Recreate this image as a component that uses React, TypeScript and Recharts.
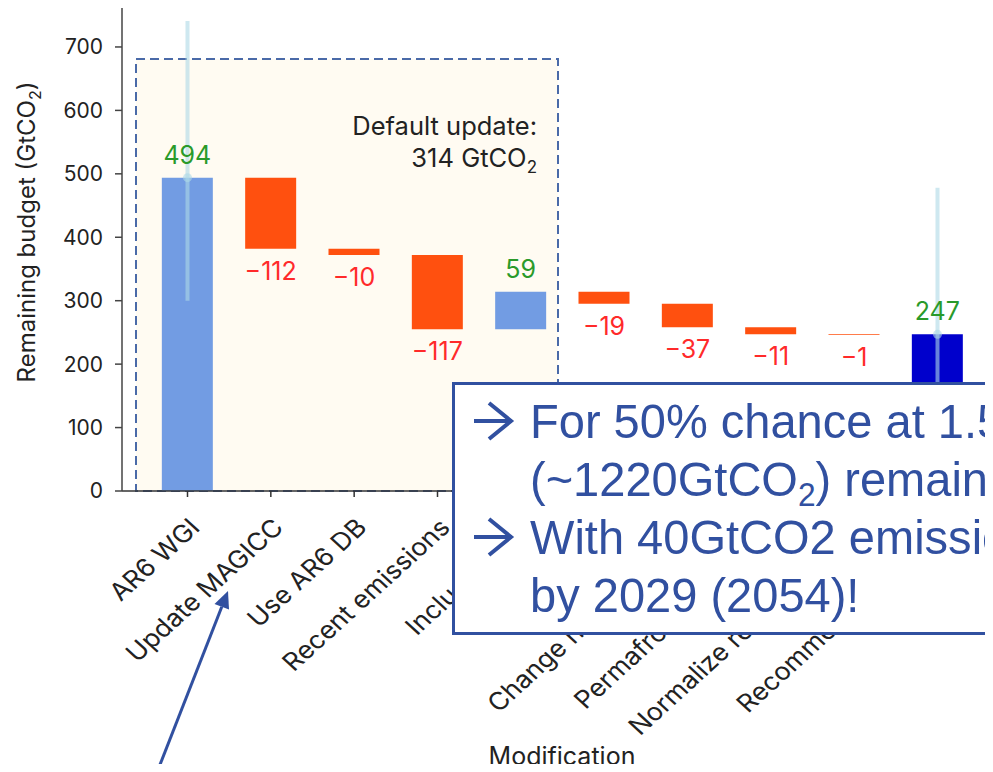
import {
  Bar,
  Cell,
  ComposedChart,
  ErrorBar,
  Label,
  LabelList,
  ReferenceArea,
  ReferenceLine,
  Scatter,
  XAxis,
  YAxis,
} from "recharts";

const CATEGORIES = [
  "AR6 WGI",
  "Update MAGICC",
  "Use AR6 DB",
  "Recent emissions",
  "Include 2022",
  "Update ZEC",
  "Change non-CO2 data",
  "Permafrost feedbacks",
  "Normalize reference year",
  "Recommended update",
];
// first and last are totals, the rest are steps of the waterfall
const CHANGES = [494, -112, -10, -117, 59, -19, -37, -11, -1, 247];
const BAR_KINDS = ["total", "loss", "loss", "loss", "gain", "loss", "loss", "loss", "loss", "final"];

const RANGE_AT = [0, 9];
const RANGE_LOW = [300, 70];
const RANGE_HIGH = [741, 478];

const Y_TICKS = [0, 100, 200, 300, 400, 500, 600, 700];
const X_TICKS = CATEGORIES.map((_, i) => i);
const DEFAULT_UPDATE = 314;

const FONT = "Inter, sans-serif";
const FILLS: Record<string, string> = {
  total: "#729ce3",
  gain: "#729ce3",
  loss: "#ff500f",
  final: "#0000cc",
};
const RANGE_COLOR = "rgba(173,216,230,0.6)";
const NOTE_COLOR = "#3150a0";

type Row = { idx: number; base: number; span: number; change: number; kind: string };

let running = 0;
const rows: Row[] = CHANGES.map((change, idx) => {
  const kind = BAR_KINDS[idx];
  if (kind === "total" || kind === "final") {
    running = change;
    return { idx, base: 0, span: change, change, kind };
  }
  const start = running;
  running = start + change;
  return { idx, base: Math.min(start, running), span: Math.abs(change), change, kind };
});

const rangeRows = RANGE_AT.map((idx, k) => ({
  idx,
  mid: CHANGES[idx],
  err: [CHANGES[idx] - RANGE_LOW[k], RANGE_HIGH[k] - CHANGES[idx]],
}));

function ValueLabel(props: any) {
  const x = Number(props.x);
  const y = Number(props.y);
  const width = Number(props.width);
  const height = Number(props.height);
  const row = rows[props.index];
  if (!row) return null;
  const cx = x + width / 2;
  if (row.kind === "loss") {
    return (
      <text x={cx} y={y + height + 31} textAnchor="middle" fill="#ff2a2a" fontSize={25} fontFamily={FONT}>
        {`\u2212${Math.abs(row.change)}`}
      </text>
    );
  }
  return (
    <text x={cx} y={y - 14} textAnchor="middle" fill="#2a9a2a" fontSize={25} fontFamily={FONT}>
      {row.change}
    </text>
  );
}

function CategoryTick(props: any) {
  const { x, y, payload } = props;
  return (
    <text
      transform={`translate(${x + 14},${y + 30}) scale(1.1,1) rotate(-45)`}
      textAnchor="end"
      fill="#222"
      fontSize={24.5}
      fontFamily={FONT}
    >
      {CATEGORIES[payload.value]}
    </text>
  );
}

function BudgetChart() {
  return (
    <ComposedChart
      width={1040}
      height={772}
      data={rows}
      margin={{ top: 7, right: 2.5, bottom: 0, left: 0 }}
    >
      <ReferenceArea
        x1={-0.618}
        x2={4.446}
        y1={0}
        y2={681}
        fill="#fffbf2"
        fillOpacity={1}
        stroke="#4a6aa8"
        strokeWidth={2}
        strokeDasharray="9 5"
      >
        <Label
          content={(p: any) => {
            const vb = p.viewBox || {};
            const rx = vb.x + vb.width - 21;
            const ty = vb.y + 76;
            return (
              <text textAnchor="end" fill="#222" fontSize={25.5} fontFamily={FONT}>
                <tspan x={rx} y={ty}>Default update:</tspan>
                <tspan x={rx} y={ty + 32}>{`${DEFAULT_UPDATE} GtCO`}</tspan>
                <tspan fontSize={17} dy={6}>2</tspan>
              </text>
            );
          }}
        />
      </ReferenceArea>
      <ReferenceLine y={763} stroke="#777" strokeWidth={1.5} />
      <XAxis
        dataKey="idx"
        type="number"
        domain={[-0.786, 10.2]}
        allowDataOverflow
        ticks={X_TICKS}
        interval={0}
        tick={<CategoryTick />}
        tickSize={6}
        tickMargin={2}
        height={281}
        stroke="#333"
        strokeWidth={1.5}
      >
        <Label
          content={() => (
            <text x={562} y={765} textAnchor="middle" fill="#222" fontSize={25} fontFamily={FONT}>
              Modification
            </text>
          )}
        />
      </XAxis>
      <YAxis
        type="number"
        domain={[0, 763]}
        allowDataOverflow
        ticks={Y_TICKS}
        width={122}
        tickSize={7}
        tickMargin={12}
        stroke="#444"
        strokeWidth={1.5}
        tick={{ fontSize: 21, fill: "#222", fontFamily: FONT }}
      >
        <Label
          content={() => (
            <text
              transform="translate(35,232) rotate(-90)"
              textAnchor="middle"
              fill="#222"
              fontSize={24}
              fontFamily={FONT}
            >
              Remaining budget (GtCO<tspan fontSize={16} dy={6}>2</tspan>
              <tspan dy={-6}>)</tspan>
            </text>
          )}
        />
      </YAxis>
      <Bar dataKey="base" stackId="w" fill="transparent" barSize={51} isAnimationActive={false} />
      <Bar dataKey="span" stackId="w" barSize={51} isAnimationActive={false}>
        {rows.map((r) => (
          <Cell key={r.idx} fill={FILLS[r.kind]} />
        ))}
        <LabelList dataKey="span" content={<ValueLabel />} />
      </Bar>
      <Scatter
        data={rangeRows}
        dataKey="mid"
        isAnimationActive={false}
        shape={(p: any) => <circle cx={p.cx} cy={p.cy} r={4.5} fill={RANGE_COLOR} />}
      >
        <ErrorBar dataKey="err" direction="y" width={0} stroke={RANGE_COLOR} strokeWidth={4} isAnimationActive={false} />
      </Scatter>
    </ComposedChart>
  );
}

function Arrow({ y }: { y: number }) {
  return (
    <g stroke={NOTE_COLOR} strokeWidth={4} fill="none">
      <line x1={474} y1={y} x2={511} y2={y} />
      <polyline points={`489,${y - 18} 511,${y} 489,${y + 18}`} />
    </g>
  );
}

function NoteOverlay() {
  const textProps = { fill: NOTE_COLOR, fontSize: 49, fontFamily: "'Liberation Sans', Arial, sans-serif" };
  return (
    <svg width={993} height={772} style={{ position: "absolute", left: 0, top: 0, pointerEvents: "none" }}>
      <rect x={453.5} y={383.5} width={600} height={250} fill="#fff" stroke={NOTE_COLOR} strokeWidth={3} />
      <Arrow y={421} />
      <Arrow y={537} />
      <text transform="translate(530,438) scale(0.96,1)" {...textProps}>
        For 50% chance at 1.5°C
      </text>
      <text transform="translate(530,496) scale(0.96,1)" {...textProps}>
        (~1220GtCO<tspan fontSize={33} dy={10}>2</tspan>
        <tspan dy={-10}>) remaining</tspan>
      </text>
      <text transform="translate(530,554) scale(0.96,1)" {...textProps}>
        With 40GtCO2 emissions per year
      </text>
      <text transform="translate(530,612) scale(0.96,1)" {...textProps}>
        by 2029 (2054)!
      </text>
      <line x1={154} y1={780} x2={221.8} y2={606.8} stroke={NOTE_COLOR} strokeWidth={3} />
      <polygon points="228,591 229,609.5 214.5,604" fill={NOTE_COLOR} />
    </svg>
  );
}

export default function App() {
  return (
    <div
      style={{
        position: "relative",
        margin: -8,
        width: 993,
        height: 772,
        overflow: "hidden",
        background: "#fff",
      }}
    >
      <BudgetChart />
      <NoteOverlay />
    </div>
  );
}
